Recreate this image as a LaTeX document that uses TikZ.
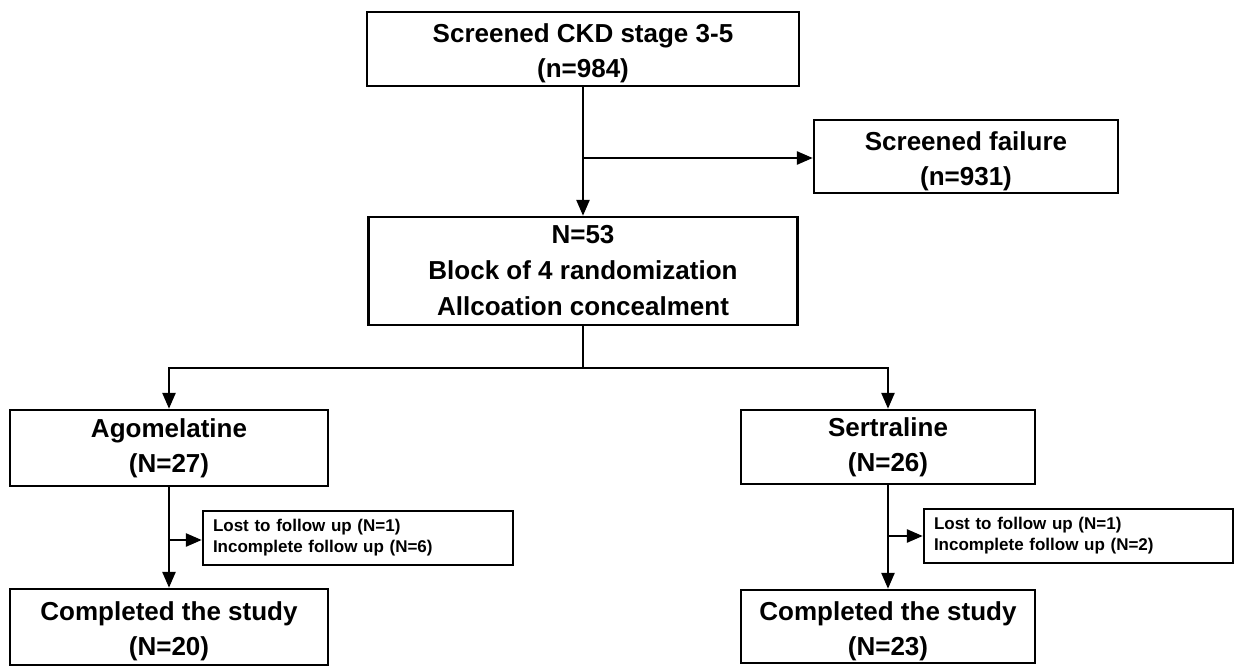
\documentclass[tikz,border=0pt]{standalone}
\usepackage{fontspec}
\setmainfont{Liberation Sans}
\usetikzlibrary{arrows.meta}
\newcommand{\lowstrut}{\rule{0pt}{28pt}}
\begin{document}
\begin{tikzpicture}[x=1pt,y=-1pt,
  box/.style={draw, line width=2.4pt, align=center, inner sep=0pt,
    font=\fontsize{26}{35}\selectfont\bfseries},
  smallbox/.style={draw, line width=2.4pt, align=left, inner xsep=10pt, inner ysep=0pt,
    font=\fontsize{17}{21}\selectfont\bfseries},
  conn/.style={line width=2.6pt},
  arr/.style={conn, -{Triangle[length=16pt,width=13pt]}}]
\useasboundingbox (0,0) rectangle (1235,666);
\node[box, minimum width=432pt, minimum height=74pt] (top) at (583,49) {\lowstrut Screened CKD stage 3-5\\(n=984)};
\node[box, minimum width=304pt, minimum height=73pt] (fail) at (966,156.5) {\lowstrut Screened failure\\(n=931)};
\node[box, minimum width=429pt, minimum height=108pt, font=\fontsize{26}{36}\selectfont\bfseries] (rand) at (583,271) {N=53\\Block of 4 randomization\\Allcoation concealment};
\node[box, minimum width=318pt, minimum height=76pt] (ago) at (169,448) {Agomelatine\\(N=27)};
\node[box, minimum width=294pt, minimum height=74pt] (sert) at (888,447) {Sertraline\\(N=26)};
\node[smallbox, text width=290pt, minimum height=54pt] (lost1) at (358,538) {Lost to follow up (N=1)\\Incomplete follow up (N=6)};
\node[smallbox, text width=289pt, minimum height=54pt] (lost2) at (1078.5,536) {Lost to follow up (N=1)\\Incomplete follow up (N=2)};
\node[box, minimum width=318pt, minimum height=76pt] (comp1) at (169,627) {\lowstrut Completed the study\\(N=20)};
\node[box, minimum width=294pt, minimum height=73pt] (comp2) at (888,626.5) {\lowstrut Completed the study\\(N=23)};
\draw[arr] (top.south) -- (rand.north);
\draw[arr] (top.south |- 0,158) -- (fail.west |- 0,158);
\coordinate (br) at (583,368);
\draw[conn] (rand.south) -- (br);
\draw[arr] (br) -| (ago.north);
\draw[arr] (br) -| (sert.north);
\draw[arr] (ago.south) -- (comp1.north);
\draw[arr] (ago.south |- 0,540) -- (lost1.west |- 0,540);
\draw[arr] (sert.south) -- (comp2.north);
\draw[arr] (sert.south |- lost2.west) -- (lost2.west);
\end{tikzpicture}
\end{document}
